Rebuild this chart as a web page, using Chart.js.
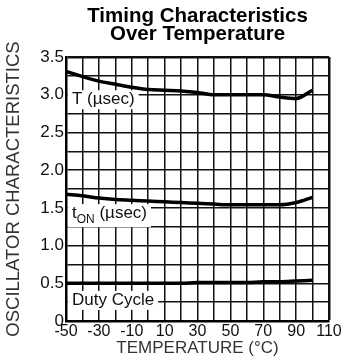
<!DOCTYPE html>
<html><head><meta charset="utf-8">
<script src="https://cdn.jsdelivr.net/npm/chart.js@4"></script>
<style>html,body{margin:0;padding:0;background:#fff}</style>
</head><body>
<canvas id="c" width="352" height="360" style="width:352px;height:360px;display:block"></canvas>
<script>
const temperatures = [-50,-40,-30,-20,-10,0,10,20,30,40,50,60,70,80,90,100];
const periodT   = [3.31,3.24,3.18,3.14,3.10,3.07,3.06,3.05,3.03,3.00,3.00,3.00,3.00,2.97,2.95,3.06];
const onTime    = [1.68,1.66,1.63,1.61,1.60,1.59,1.58,1.57,1.56,1.55,1.54,1.54,1.54,1.54,1.57,1.64];
const dutyCycle = [0.50,0.50,0.50,0.50,0.50,0.50,0.50,0.50,0.51,0.51,0.51,0.51,0.52,0.52,0.53,0.54];
const xTickValues = [-50,-30,-10,10,30,50,70,90,110];
const xTickLabels = ['-50','-30','-10','10','30','50','70','90','110'];
const yTickValues = [0,0.5,1,1.5,2,2.5,3,3.5];
const yTickLabels = ['0','0.5','1.0','1.5','2.0','2.5','3.0','3.5'];
const noteMain = ['T (µsec)','t','Duty Cycle'];
const noteSub  = ['','ON',''];
const noteTail = ['',' (µsec)',''];
const noteValues = [2.94, 1.43, 0.28];

const FONT = "'Liberation Sans', Arial, Helvetica, sans-serif";

function pick(vals, labels, v){
  const i = vals.findIndex(t => Math.abs(t - v) < 1e-6);
  return i >= 0 ? labels[i] : '';
}

const notesPlugin = {
  id: 'notes',
  beforeDatasetsDraw(chart){
    const ctx = chart.ctx, xs = chart.scales.x, ys = chart.scales.y;
    ctx.save();
    const mainF = "17px " + FONT, subF = "12px " + FONT;
    noteMain.forEach((m, i) => {
      ctx.font = mainF;
      const w1 = ctx.measureText(m).width;
      ctx.font = subF;
      const w2 = noteSub[i] ? ctx.measureText(noteSub[i]).width : 0;
      ctx.font = mainF;
      const w3 = noteTail[i] ? ctx.measureText(noteTail[i]).width : 0;
      const x0 = xs.getPixelForValue(-50) + 6;
      const yc = ys.getPixelForValue(noteValues[i]);
      const total = w1 + w2 + w3;
      const hTop = 9, hBot = noteSub[i] ? 14 : 10;
      ctx.fillStyle = '#fff';
      ctx.fillRect(x0 - 4, yc - hTop, total + 8, hTop + hBot);
      ctx.fillStyle = '#111';
      ctx.textBaseline = 'middle';
      ctx.textAlign = 'left';
      ctx.font = mainF;
      ctx.fillText(m, x0, yc);
      if (noteSub[i]) {
        ctx.font = subF;
        ctx.fillText(noteSub[i], x0 + w1, yc + 7);
        ctx.font = mainF;
        ctx.fillText(noteTail[i], x0 + w1 + w2, yc);
      }
    });
    ctx.restore();
  }
};

const mk = (arr) => temperatures.map((t, i) => ({x: t, y: arr[i]}));
const ds = (arr) => ({
  data: mk(arr), borderColor: '#000', borderWidth: 3.5, pointRadius: 0,
  fill: false, cubicInterpolationMode: 'monotone', borderCapStyle: 'butt'
});

new Chart(document.getElementById('c'), {
  type: 'line',
  data: { datasets: [ds(periodT), ds(onTime), ds(dutyCycle)] },
  plugins: [notesPlugin],
  options: {
    responsive: false, animation: false, devicePixelRatio: 1,
    layout: { padding: { left: 0, right: 23, top: 0, bottom: 0 } },
    plugins: {
      legend: { display: false }, tooltip: { enabled: false },
      title: {
        display: true, fullSize: false,
        text: ['Timing Characteristics', 'Over Temperature'],
        color: '#000',
        font: { family: FONT, size: 20.5, weight: 'bold', lineHeight: 18/20.5 },
        padding: { top: 7, bottom: 14 }
      }
    },
    scales: {
      x: {
        type: 'linear', min: -50, max: 110,
        afterFit(s){ s.height = 39; },
        ticks: { stepSize: 10, autoSkip: false, maxRotation: 0, padding: 1, color: '#111',
          font: { family: FONT, size: 16 },
          callback: v => pick(xTickValues, xTickLabels, v) },
        grid: { color: '#111', drawTicks: false,
          lineWidth: c => (c.tick && c.tick.value === 110) ? 2.5 : 1.5 },
        border: { display: true, color: '#000', width: 2.5 },
        title: { display: true, text: 'TEMPERATURE (°C)', color: '#333',
          font: { family: FONT, size: 17 }, padding: { top: 0, bottom: 1 } }
      },
      y: {
        min: 0, max: 3.5,
        afterFit(s){ s.width = 66; },
        ticks: { stepSize: 0.25, autoSkip: false, padding: 2, color: '#111',
          font: { family: FONT, size: 17 },
          callback: v => pick(yTickValues, yTickLabels, v) },
        grid: { color: '#111', drawTicks: false,
          lineWidth: c => (c.tick && c.tick.value === 3.5) ? 2.5 : 1.5 },
        border: { display: true, color: '#000', width: 2.5 },
        title: { display: true, text: 'OSCILLATOR CHARACTERISTICS', color: '#333',
          font: { family: FONT, size: 18.5 }, padding: { top: 3, bottom: 0 } }
      }
    }
  }
});
</script>
</body></html>
